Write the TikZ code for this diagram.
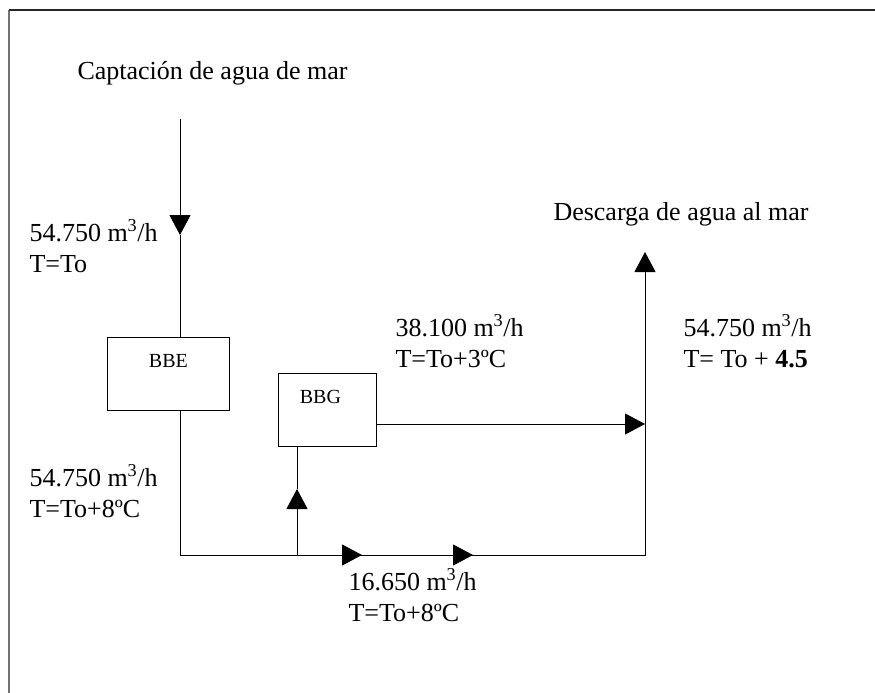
\documentclass[tikz,border=0pt]{standalone}
\usepackage{fontspec}
\setmainfont{Liberation Serif}
\usetikzlibrary{arrows.meta, positioning}

\begin{document}
\begin{tikzpicture}[x=1pt, y=-1pt, line width=1pt,
    txt/.style={inner sep=0pt, anchor=base west, align=left, font=\fontsize{26}{31}\selectfont},
    unit/.style={draw, rectangle, minimum height=73pt, inner sep=0pt, line width=0.8pt},
    unitlabel/.style={anchor=base, yshift=-30pt, inner sep=0pt, font=\fontsize{20}{24}\selectfont},
    flow/.style={-{Triangle[length=20pt, width=21pt]}},
    frame/.style={line width=1.6pt}]
    \useasboundingbox (0,0) rectangle (875,693);

    % Frame
    \draw [frame, black!55] (9,693) -- (9,10);
    \draw [frame, black!85] (9,10) -- (875,10);

    % Units
    \node [unit, minimum width=122pt, anchor=north west,
        label={[unitlabel]north:BBE}] (bbe) at (107,337) {};
    \node [unit, minimum width=98pt, anchor=north west,
        label={[unitlabel, xshift=-7pt]north:BBG}] (bbg) at (278,373) {};

    % Texts (two-line texts sit on their last baseline)
    \node [txt] (intake) at (77,80) {Captación de agua de mar};
    \node [txt] (outfall) at (553,220) {Descarga de agua al mar};
    \node [txt] (q_in) at (29,272) {54.750 m\textsuperscript{3}/h\\T=To};
    \node [txt] (q_bbe) at (29,517) {54.750 m\textsuperscript{3}/h\\T=To+8ºC};
    \node [txt] (q_bbg) at (395,367) {38.100 m\textsuperscript{3}/h\\T=To+3ºC};
    \node [txt] (q_bypass) at (348,621) {16.650 m\textsuperscript{3}/h\\T=To+8ºC};
    \node [txt] (q_out) at (683,367) {54.750 m\textsuperscript{3}/h\\T= To + \textbf{4.5}};

    % Points on the lines
    \coordinate (top) at (180,119);
    \coordinate (inTip) at (180,235);
    \coordinate (cornerL) at (180,555);
    \coordinate (cornerR) at (645,555);
    \coordinate (outTip) at (645,252);
    \coordinate (tee) at (297,555);
    \coordinate (upTip) at (297,489);
    \coordinate (mix) at (645,424);

    % Paths
    \draw [flow] (top) -- (inTip);
    \draw (inTip) -- (inTip |- bbe.north);
    \draw [flow] (bbe.south -| cornerL) -- (cornerL) -- (cornerR) -- (outTip);
    \draw [flow] (tee) -- (upTip);
    \draw (upTip) -- (upTip |- bbg.south);
    \draw [flow] (bbg.east |- mix) -- (mix);
    \draw [flow] (286,555) -- (362,555);
    \draw [flow] (440,555) -- (473,555);
\end{tikzpicture}
\end{document}
